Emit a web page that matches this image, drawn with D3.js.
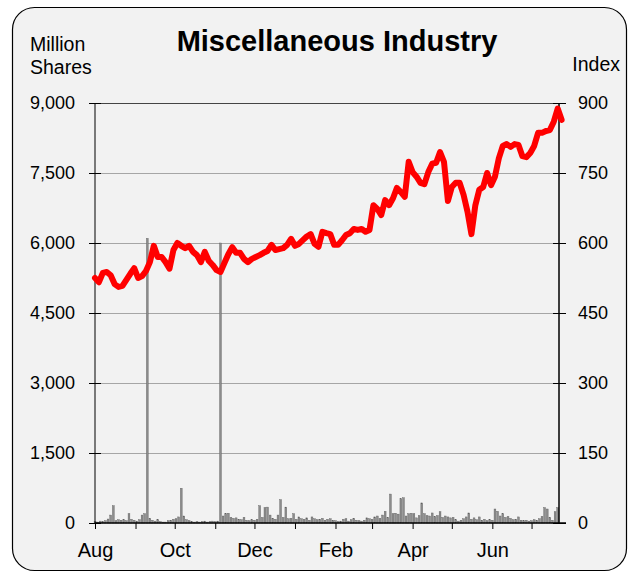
<!DOCTYPE html>
<html><head><meta charset="utf-8">
<script src="https://cdn.jsdelivr.net/npm/d3@7"></script>
<style>body{margin:0;background:#fff}svg{display:block;font-family:"Liberation Sans",Arial,Helvetica,sans-serif}</style>
</head><body><svg id="c" width="631" height="573"></svg>
<script>
const chartTitle = "Miscellaneous Industry";
const leftTitle = ["Million", "Shares"];
const rightTitle = "Index";
const startDate = new Date(2012, 7, 1);
const endDate = new Date(2013, 6, 22);
const indexStepDays = 3;
const indexValues = [
 525,516,536,538,531,512,506,508,521,534,
 546,525,529,540,559,594,570,570,559,545,
 585,600,594,589,594,581,574,559,581,562,
 553,542,538,557,576,591,579,579,566,559,
 566,570,574,579,583,596,585,587,589,596,
 609,594,598,606,614,619,598,592,624,621,
 619,596,596,606,617,621,630,628,630,624,
 628,681,673,660,692,681,696,718,709,699,
 774,752,742,729,726,752,770,772,795,774,
 690,720,729,729,703,667,619,681,714,720,
 750,724,742,782,808,812,806,812,810,786,
 784,793,808,836,836,840,842,860,888,864
];
const volumeStepDays = 2;
const volumeValues = [
 30,20,40,30,50,85,170,370,50,70,
 60,70,50,200,80,60,40,70,170,200,
 6100,100,60,40,70,30,20,20,50,60,
 80,90,130,745,150,70,50,30,20,30,
 20,30,40,20,30,40,30,40,6000,150,
 200,210,120,100,110,80,70,120,60,50,
 70,60,80,370,120,330,340,170,100,80,
 170,500,120,340,90,100,200,80,130,90,
 80,110,60,130,90,70,80,100,60,80,
 90,60,50,30,40,80,90,40,70,100,
 60,50,40,60,110,90,80,130,150,100,
 170,250,120,620,200,210,190,520,540,150,
 200,210,200,110,160,430,200,160,150,215,
 140,160,240,120,150,130,110,120,70,40,
 60,90,130,215,80,110,70,130,60,80,
 50,70,60,300,250,150,200,120,140,100,
 70,80,130,60,50,60,40,50,70,60,
 90,140,330,300,120,60,240,330
];
const volumeTicks = [0, 1500, 3000, 4500, 6000, 7500, 9000];
const indexTicks = [0, 150, 300, 450, 600, 750, 900];
const monthLabels = ["Aug","","Oct","","Dec","","Feb","","Apr","","Jun",""];

const svg = d3.select("#c");
const L = 95, R = 559, T = 103, B = 523;

svg.append("rect").attr("x", 12.5).attr("y", 7.5).attr("width", 614).attr("height", 563)
  .attr("rx", 22).attr("fill", "#f2f2f2").attr("stroke", "#000").attr("stroke-width", 1.2);

const x = d3.scaleTime().domain([startDate, endDate]).range([L, R]);
const yVol = d3.scaleLinear().domain([0, 9000]).range([B, T]);
const yIdx = d3.scaleLinear().domain([0, 900]).range([B, T]);

// gridlines
const grid = svg.append("g").attr("transform", `translate(${L},0)`)
  .call(d3.axisLeft(yVol).tickValues(volumeTicks.slice(1)).tickSize(-(R - L)).tickFormat(""));
grid.select(".domain").remove();
grid.selectAll(".tick line").attr("stroke", d => d === 9000 ? "#444" : "#a6a6a6").attr("stroke-width", 1.2);

// volume bars
const volData = volumeValues.map((v, i) => ({ date: d3.timeDay.offset(startDate, i * volumeStepDays), v }));
svg.append("g").selectAll("rect").data(volData).join("rect")
  .attr("x", d => x(d.date) - 0.9).attr("width", 1.8)
  .attr("y", d => yVol(d.v)).attr("height", d => B - yVol(d.v))
  .attr("fill", "#8c8c8c").attr("stroke", "#5e5e5e").attr("stroke-width", 0.4);

// axes
const fontSize = 18;
const la = svg.append("g").attr("transform", `translate(${L},0)`)
  .call(d3.axisLeft(yVol).tickValues(volumeTicks).tickSize(6).tickPadding(14).tickFormat(d3.format(",")));
la.select(".domain").attr("d", `M0,${T}V${B}`);
la.selectAll("text").attr("font-size", fontSize).attr("fill", "#000").style("font-family", "Liberation Sans, Arial");
const lai = svg.append("g").attr("transform", `translate(${L},0)`)
  .call(d3.axisRight(yVol).tickValues(volumeTicks).tickSize(6).tickFormat(""));
lai.select(".domain").remove();

const ra = svg.append("g").attr("transform", `translate(${R},0)`)
  .call(d3.axisRight(yIdx).tickValues(indexTicks).tickSize(7).tickPadding(12));
ra.select(".domain").attr("d", `M0,${T}V${B}`).attr("stroke-width", 1.5);
ra.selectAll("text").attr("font-size", fontSize).attr("fill", "#000").style("font-family", "Liberation Sans, Arial");
const rai = svg.append("g").attr("transform", `translate(${R},0)`)
  .call(d3.axisLeft(yIdx).tickValues(indexTicks).tickSize(6).tickFormat(""));
rai.select(".domain").remove();

const monthTicks = d3.timeMonth.range(startDate, endDate);
const ba = svg.append("g").attr("transform", `translate(0,${B})`)
  .call(d3.axisBottom(x).tickValues(monthTicks).tickSize(6).tickPadding(14)
    .tickFormat((d, i) => monthLabels[i]));
ba.select(".domain").attr("d", `M${L},0H${R + 7}`).attr("stroke-width", 1.3);
ba.selectAll("text").attr("font-size", 20).attr("fill", "#000").style("font-family", "Liberation Sans, Arial");

// index line
const lineData = indexValues.map((v, i) => ({ date: d3.timeDay.offset(startDate, i * indexStepDays), v }));
svg.append("path").datum(lineData)
  .attr("d", d3.line().x(d => x(d.date)).y(d => yIdx(d.v)))
  .attr("fill", "none").attr("stroke", "#ff0000").attr("stroke-width", 6)
  .attr("stroke-linejoin", "round").attr("stroke-linecap", "round");

// titles
svg.append("text").attr("x", 337).attr("y", 51).attr("text-anchor", "middle")
  .attr("font-size", 29).attr("font-weight", "bold").text(chartTitle);
svg.append("text").attr("x", 30).attr("y", 51).attr("font-size", 19.5).text(leftTitle[0]);
svg.append("text").attr("x", 30).attr("y", 74).attr("font-size", 19.5).text(leftTitle[1]);
svg.append("text").attr("x", 620).attr("y", 71).attr("text-anchor", "end").attr("font-size", 19.5).text(rightTitle);
</script></body></html>
